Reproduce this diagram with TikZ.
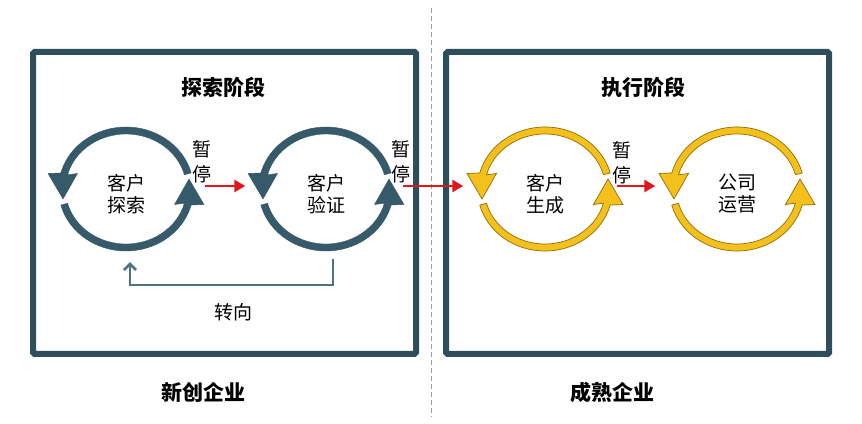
\documentclass[tikz,border=0pt]{standalone}
\usepackage{fontspec}
\setmainfont{Noto Sans CJK SC}
\usetikzlibrary{arrows.meta}

\definecolor{framedark}{HTML}{2F4E5B}
\definecolor{ringblue}{HTML}{365A69}
\definecolor{turnblue}{HTML}{4B7381}
\definecolor{ringgold}{HTML}{F4C01B}
\definecolor{goldline}{HTML}{8F6E08}
\definecolor{arrowred}{HTML}{E3161C}
\definecolor{splitgray}{HTML}{9AA1A7}

\tikzset{
  phasebox/.style={draw=framedark, line width=6pt, rounded corners=1.5pt,
    minimum width=383pt, minimum height=302pt, inner sep=0pt},
  ringnode/.style={circle, minimum size=123pt, inner sep=0pt, align=center,
    font=\fontsize{19}{22}\selectfont},
  pauselabel/.style={align=center, inner sep=0pt, font=\fontsize{19}{25}\selectfont},
  phasetitle/.style={font=\fontsize{21}{24}\selectfont\bfseries},
  ringdark/.style={fill=ringblue, draw=ringblue, line width=0.4pt},
  ringyellow/.style={fill=ringgold, draw=goldline, line width=0.7pt},
  redarrow/.style={draw=arrowred, line width=2.8pt, -{Triangle[length=11pt,width=12pt]}},
  turnline/.style={draw=turnblue, line width=2.6pt, -{Straight Barb[length=6pt,width=12pt]}},
  halfring/.pic={
    \path[pic actions] (15:67.5pt and 62pt)
      arc[start angle=15,end angle=165,x radius=67.5pt,y radius=62pt]
      -- (-78pt,15.5pt) -- (-63pt,-10pt) -- (-48.5pt,15.5pt) -- (165:60.5pt and 55pt)
      arc[start angle=165,end angle=15,x radius=60.5pt,y radius=55pt] -- cycle;
  },
}

\begin{document}
\begin{tikzpicture}[x=1pt,y=1pt]
	\useasboundingbox (0,0) rectangle (862,423);
	%\draw[help lines] (0,0) grid[step=50] (862,423);
	% split between the two phases
	\coordinate (splittop) at (431,415);
	\coordinate (splitbot) at (431,6);
	\draw[splitgray, line width=0.9pt, dash pattern=on 5pt off 3pt] (splittop) -- (splitbot);
	% frames
	\node[phasebox] (phaseA) at (224.5,220) {};
	\node[phasebox] (phaseB) at (637.5,220) {};
	\node[phasetitle] (titleA) at (223,336) {探索阶段};
	\node[phasetitle] (titleB) at (643,336) {执行阶段};
	\node[phasetitle] (stageA) at (203,31) {新创企业};
	\node[phasetitle] (stageB) at (612,31) {成熟企业};
	% cycles
	\node[ringnode] (c1) at (126,229) {客户\\探索};
	\node[ringnode] (c2) at (326,229) {客户\\验证};
	\node[ringnode] (c3) at (545,229) {客户\\生成};
	\node[ringnode] (c4) at (737,229) {公司\\运营};
	\foreach \c/\st in {c1/ringdark, c2/ringdark, c3/ringyellow, c4/ringyellow}{
		\pic[\st] at ([yshift=5pt]\c.center) {halfring};
		\pic[\st, rotate=180] at ([yshift=5pt]\c.center) {halfring};
	}
	% pauses
	\node[pauselabel] (pause1) at (202,261) {暂\\停};
	\node[pauselabel] (pause2) at (401,261) {暂\\停};
	\node[pauselabel] (pause3) at (622,260) {暂\\停};
	\draw[redarrow, shorten <=17.5pt, shorten >=19pt] ([yshift=8pt]c1.east) -- ([yshift=8pt]c2.west);
	\draw[redarrow, shorten <=15.5pt, shorten >=20pt] ([yshift=8pt]c2.east) -- ([yshift=8pt]c3.west);
	\draw[redarrow, shorten <=10pt, shorten >=20pt] ([yshift=8pt]c3.east) -- ([yshift=8pt]c4.west);
	% pivot back
	\draw[turnline] ([xshift=7pt,yshift=-3.5pt]c2.south) -- ++(0,-26) -| ([xshift=4pt,yshift=-6.5pt]c1.south);
	\node[font=\fontsize{19}{24}\selectfont] (turn) at (233,111) {转向};
\end{tikzpicture}
\end{document}
